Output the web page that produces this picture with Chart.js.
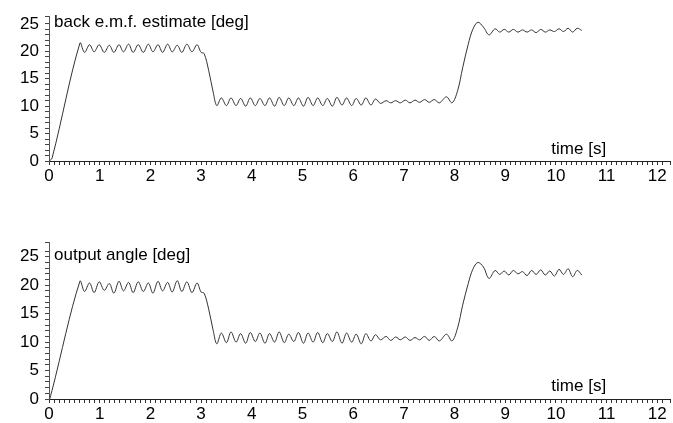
<!DOCTYPE html>
<html>
<head>
<meta charset="utf-8">
<script src="https://cdn.jsdelivr.net/npm/chart.js@4"></script>
<style>
  body { margin: 0; background: #fff; }
  canvas { position: absolute; left: 0; }
  #top { top: 0; }
  #bottom { top: 225px; }
</style>
</head>
<body>
<canvas id="top" width="673" height="200"></canvas>
<canvas id="bottom" width="673" height="198"></canvas>
<script>
const time = [
  0, 0.06,
  0.61, 0.70, 0.80, 0.89, 0.99, 1.09, 1.19, 1.28, 1.38, 1.47, 1.57, 1.66, 1.76, 1.86, 1.96,
  2.05, 2.15, 2.24, 2.34, 2.43, 2.53, 2.62, 2.72, 2.82, 2.92, 3.00, 3.06, 3.15, 3.24, 3.31,
  3.40, 3.50, 3.59, 3.69, 3.78, 3.88, 3.97, 4.07, 4.16, 4.26, 4.35, 4.45, 4.54, 4.64, 4.73,
  4.83, 4.92, 5.02, 5.11, 5.21, 5.30, 5.40, 5.49, 5.59, 5.68, 5.78, 5.87, 5.97, 6.06, 6.16,
  6.25, 6.35, 6.44, 6.54,
  6.65, 6.74, 6.84, 6.93, 7.03, 7.12, 7.22, 7.31, 7.41, 7.50, 7.60, 7.70, 7.84, 7.95,
  8.06, 8.16, 8.27, 8.36, 8.46, 8.57, 8.68,
  8.80, 8.89, 8.98, 9.07, 9.16, 9.25, 9.34, 9.43, 9.52, 9.61, 9.70, 9.79, 9.88, 9.97,
  10.06, 10.15, 10.24, 10.33, 10.42, 10.51
];

// back e.m.f. estimate [deg]
const emfDeg = [
  0, 0.5,
  21.5, 19.8, 21.2, 19.9, 21.2, 19.8, 21.1, 19.8, 21.2, 19.9, 21.3, 19.8, 21.2, 19.8, 21.3,
  19.9, 21.2, 19.8, 21.3, 19.9, 21.1, 19.8, 21.3, 19.9, 21.2, 19.8, 19.6, 16.5, 12.5, 10.1,
  11.5, 10.1, 11.5, 10.1, 11.4, 10.0, 11.5, 10.1, 11.4, 10.1, 11.5, 10.0, 11.6, 10.1, 11.5,
  10.1, 11.5, 10.0, 11.6, 10.1, 11.5, 10.1, 11.4, 10.0, 11.6, 10.2, 11.5, 10.1, 11.4, 10.2,
  11.5, 10.2, 11.3, 10.5,
  11.0, 10.6, 11.0, 10.6, 11.1, 10.6, 11.1, 10.7, 11.2, 10.7, 11.2, 10.6, 11.7, 10.6,
  12.8, 17.0, 21.3, 24.0, 25.3, 24.4, 23.0,
  24.1, 23.5, 24.0, 23.5, 24.0, 23.5, 23.9, 23.5, 23.9, 23.4, 24.0, 23.5, 23.9, 23.6,
  24.1, 23.6, 24.2, 23.5, 24.2, 23.8
];

// output angle [deg]
const angleDeg = [
  -0.4, 1.5,
  20.7, 18.9, 20.4, 18.7, 20.6, 19.1, 20.3, 18.6, 20.7, 19.0, 20.5, 18.7, 20.6, 18.9, 20.4,
  18.6, 20.7, 19.0, 20.5, 18.8, 20.8, 18.9, 20.6, 18.7, 20.4, 18.8, 18.6, 15.8, 12.0, 9.7,
  11.6, 9.9, 11.8, 10.0, 11.5, 9.8, 11.7, 10.1, 11.6, 9.8, 11.5, 10.0, 11.8, 9.9, 11.4,
  10.1, 11.7, 9.8, 11.6, 10.0, 11.7, 9.9, 11.5, 10.1, 11.8, 9.8, 11.6, 10.0, 11.4, 9.7,
  11.5, 10.2, 11.3, 10.4,
  11.0, 10.3, 10.9, 10.4, 10.9, 10.3, 10.8, 10.4, 11.0, 10.3, 11.0, 10.2, 11.4, 10.2,
  12.5, 16.5, 20.3, 22.8, 24.0, 23.2, 21.2,
  22.6, 21.9, 22.5, 21.8, 22.6, 22.0, 22.4, 21.7, 22.6, 21.9, 22.7, 21.8, 22.5, 21.6,
  22.8, 21.9, 22.9, 21.5, 22.6, 21.8
];

const xLabels = [0, 1, 2, 3, 4, 5, 6, 7, 8, 9, 10, 11, 12];
const yLabels = [0, 5, 10, 15, 20, 25];

const FONT = '"Liberation Sans", Arial, Helvetica, sans-serif';

// panel caption + "time [s]" written inside the plot area
const axisText = {
  id: 'axisText',
  afterDraw(chart, args, opts) {
    const ctx = chart.ctx;
    const x = chart.scales.x, y = chart.scales.y;
    ctx.save();
    ctx.fillStyle = '#000';
    ctx.font = '17px ' + FONT;
    ctx.textBaseline = 'middle';
    ctx.textAlign = 'left';
    ctx.fillText(opts.title, x.getPixelForValue(0.1), y.getPixelForValue(25.3));
    ctx.textAlign = 'center';
    ctx.fillText('time [s]', x.getPixelForValue(10.45), y.getPixelForValue(2.2));
    ctx.restore();
  }
};

function isLabel(list, v) {
  return list.some(l => Math.abs(l - v) < 1e-6);
}

function makePanel(id, values, title, yMax, padTop, xHeight, xDash) {
  const ctx = document.getElementById(id).getContext('2d');
  return new Chart(ctx, {
    type: 'line',
    data: {
      labels: time,
      datasets: [{
        data: values,
        borderColor: '#333',
        borderWidth: 1,
        pointRadius: 0,
        tension: 0.35,
        fill: false
      }]
    },
    options: {
      responsive: false,
      animation: false,
      layout: { padding: { top: padTop, right: 3, left: 0, bottom: 0 } },
      plugins: {
        legend: { display: false },
        tooltip: { enabled: false },
        axisText: { title: title }
      },
      scales: {
        x: {
          type: 'linear',
          min: 0,
          max: 12.25,
          afterFit: s => { s.height = xHeight; },
          border: { display: true, color: '#222', width: 1, dash: xDash },
          grid: { drawOnChartArea: false, drawTicks: true, tickLength: 4, tickColor: '#333', tickWidth: 1 },
          ticks: {
            stepSize: 0.1,
            autoSkip: false,
            maxTicksLimit: 200,
            maxRotation: 0,
            padding: 1,
            color: '#000',
            font: { family: FONT, size: 17 },
            callback: v => isLabel(xLabels, v) ? String(Math.round(v)) : ''
          }
        },
        y: {
          min: 0,
          max: yMax,
          afterFit: s => { s.width = 49; },
          border: { display: true, color: '#555', width: 1, dash: [1, 2] },
          grid: { drawOnChartArea: false, drawTicks: true, tickLength: 4, tickColor: '#444', tickWidth: 1 },
          ticks: {
            stepSize: 1,
            autoSkip: false,
            maxTicksLimit: 100,
            padding: 6,
            color: '#000',
            font: { family: FONT, size: 17 },
            callback: v => isLabel(yLabels, v) ? String(Math.round(v)) : ''
          }
        }
      }
    },
    plugins: [axisText]
  });
}

makePanel('top', emfDeg, 'back e.m.f. estimate [deg]', 26.4, 14, 39, []);
makePanel('bottom', angleDeg, 'output angle [deg]', 27.6, 17, 24, [1, 2]);
</script>
</body>
</html>
